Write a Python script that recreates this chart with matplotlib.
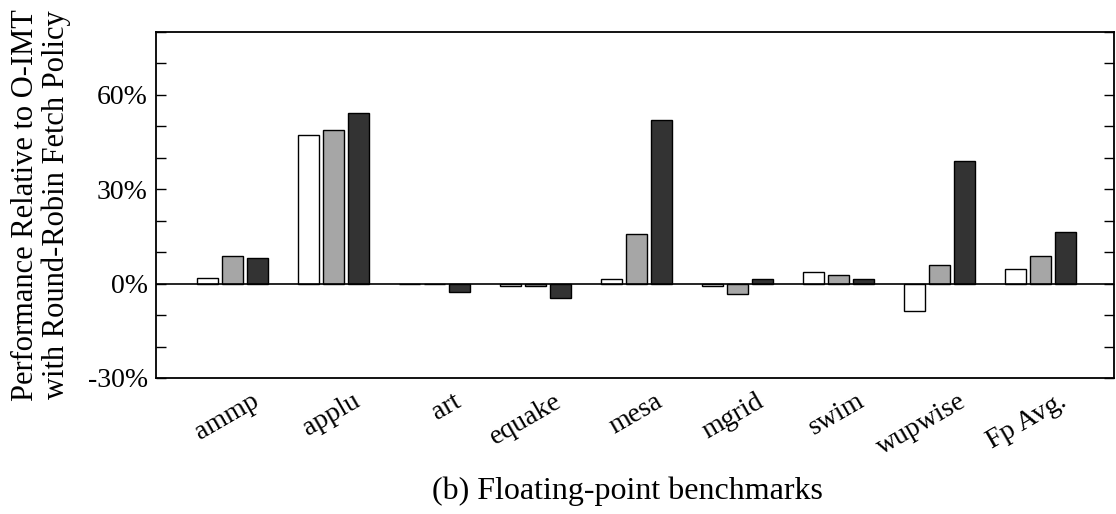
import matplotlib
matplotlib.use("Agg")
import matplotlib.pyplot as plt
from matplotlib.ticker import MultipleLocator, FuncFormatter
from matplotlib.transforms import ScaledTranslation
import numpy as np

plt.rcParams['font.family'] = ['Liberation Serif', 'DejaVu Serif']

benchmarks = ["ammp", "applu", "art", "equake", "mesa", "mgrid", "swim", "wupwise", "Fp Avg."]
policy_a = [1.8, 47.1, 0.0, -0.9, 1.6, -0.9, 3.7, -8.7, 4.6]
policy_b = [8.9, 49.0, 0.0, -0.9, 15.7, -3.4, 2.9, 6.0, 8.9]
policy_c = [8.1, 54.4, -2.8, -4.5, 52.1, 1.4, 1.5, 39.0, 16.5]
series_colors = ["#ffffff", "#a6a6a6", "#333333"]

fig = plt.figure(figsize=(11.16, 5.14), dpi=100)
ax = fig.add_axes([0.1398, 0.2646, 0.8587, 0.6731])

x = np.arange(len(benchmarks))
width = 0.21
offsets = [-0.25, 0.0, 0.25]
for vals, off, col in zip([policy_a, policy_b, policy_c], offsets, series_colors):
    ax.bar(x + off, vals, width, color=col, edgecolor="black", linewidth=1.0, zorder=3)

ax.axhline(0, color="black", linewidth=1.2, zorder=4)

ax.set_xlim(-0.757, 8.73)
ax.set_ylim(-30, 80)
ax.yaxis.set_major_locator(MultipleLocator(30))
ax.yaxis.set_minor_locator(MultipleLocator(10))
ax.yaxis.set_major_formatter(FuncFormatter(lambda v, p: f"{int(v)}%" if v <= 60 else ""))
ax.tick_params(axis="y", which="both", direction="in", length=7, width=1.0,
               left=True, right=True, labelsize=20, pad=6)
ax.tick_params(axis="x", which="both", length=0, labelsize=20, pad=4)

ax.set_xticks(x)
ax.set_xticklabels(benchmarks, rotation=30, ha="right", rotation_mode="anchor")
for lbl in ax.get_xticklabels():
    lbl.set_transform(lbl.get_transform() + ScaledTranslation(0.18, -0.05, fig.dpi_scale_trans))

for sp in ax.spines.values():
    sp.set_linewidth(1.3)

ax.set_ylabel("Performance Relative to O-IMT\nwith Round-Robin Fetch Policy",
              fontsize=22, linespacing=1.05, labelpad=12)
ax.set_xlabel("(b) Floating-point benchmarks", fontsize=23, labelpad=12)
ax.xaxis.label.set_x(0.4917)

fig.savefig("out.png", dpi=100)
